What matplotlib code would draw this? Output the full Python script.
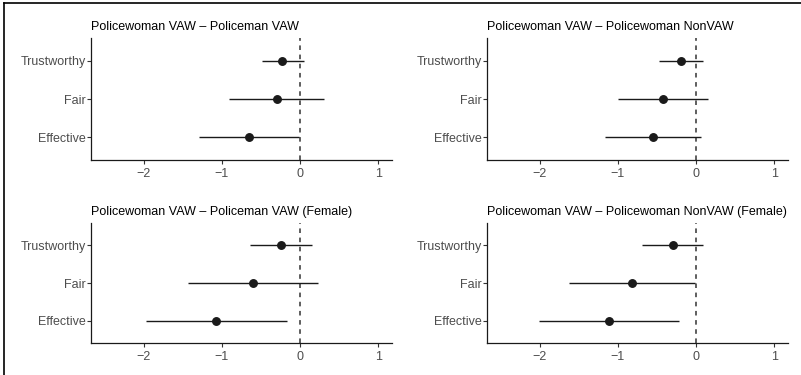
import numpy as np
import matplotlib
matplotlib.use("Agg")
import matplotlib.pyplot as plt
from matplotlib.lines import Line2D

plt.rcParams['font.family'] = ['Liberation Sans', 'DejaVu Sans']

# outcome labels, bottom to top
outcomes = ['Effective', 'Fair', 'Trustworthy']

titles = ['Policewoman VAW \u2013 Policeman VAW',
          'Policewoman VAW \u2013 Policewoman NonVAW',
          'Policewoman VAW \u2013 Policeman VAW (Female)',
          'Policewoman VAW \u2013 Policewoman NonVAW (Female)']

# estimates (Effective, Fair, Trustworthy)
est_p1 = [-0.65, -0.30, -0.23]
est_p2 = [-0.55, -0.43, -0.19]
est_p3 = [-1.07, -0.60, -0.25]
est_p4 = [-1.12, -0.82, -0.30]

# lower / upper bounds
lo_p1 = [-1.29, -0.91, -0.49]
hi_p1 = [-0.02, 0.30, 0.05]
lo_p2 = [-1.16, -1.00, -0.47]
hi_p2 = [0.06, 0.15, 0.09]
lo_p3 = [-1.97, -1.43, -0.64]
hi_p3 = [-0.17, 0.23, 0.15]
lo_p4 = [-2.01, -1.63, -0.69]
hi_p4 = [-0.22, -0.01, 0.09]

panels = [(est_p1, lo_p1, hi_p1), (est_p2, lo_p2, hi_p2),
          (est_p3, lo_p3, hi_p3), (est_p4, lo_p4, hi_p4)]

W, H = 801, 375
fig = plt.figure(figsize=(W / 100, H / 100), dpi=100)

# axes boxes in pixels: left, top, right, bottom
boxes = [(91, 38, 392, 160), (487, 38, 788, 160),
         (91, 223, 392, 343), (487, 223, 788, 343)]

for (l, t, r, b), title, (est, lo, hi) in zip(boxes, titles, panels):
    ax = fig.add_axes([l / W, 1 - b / H, (r - l) / W, (b - t) / H])
    y = np.arange(1, len(outcomes) + 1)
    ax.axvline(0, color='#333333', lw=1.1, ls=(0, (3, 3)), zorder=1)
    ax.hlines(y, lo, hi, color='#1a1a1a', lw=1.0, zorder=2)
    ax.plot(est, y, 'o', color='#1a1a1a', ms=5.4, zorder=3)
    ax.set_xlim(-2.675, 1.175)
    ax.set_ylim(0.4, 3.6)
    ax.set_xticks([-2, -1, 0, 1])
    ax.set_yticks(y)
    ax.set_yticklabels(outcomes)
    for s in ['top', 'right']:
        ax.spines[s].set_visible(False)
    for s in ['left', 'bottom']:
        ax.spines[s].set_linewidth(0.9)
        ax.spines[s].set_color('#1a1a1a')
    ax.tick_params(axis='both', colors='#333333', labelcolor='#4d4d4d',
                   labelsize=9, length=2.7, width=0.8)
    ax.tick_params(axis='y', pad=1.2)
    ax.tick_params(axis='x', pad=3.0)
    ax.set_title(title, loc='left', fontsize=9, color='black', pad=5.6)

# border on left and top edges
fig.add_artist(Line2D([4 / W, 4 / W], [0, 1 - 3 / H], transform=fig.transFigure,
                      color='black', lw=1.2))
fig.add_artist(Line2D([4 / W, 1], [1 - 3 / H, 1 - 3 / H], transform=fig.transFigure,
                      color='black', lw=1.2))

fig.savefig('out.png', dpi=100)
